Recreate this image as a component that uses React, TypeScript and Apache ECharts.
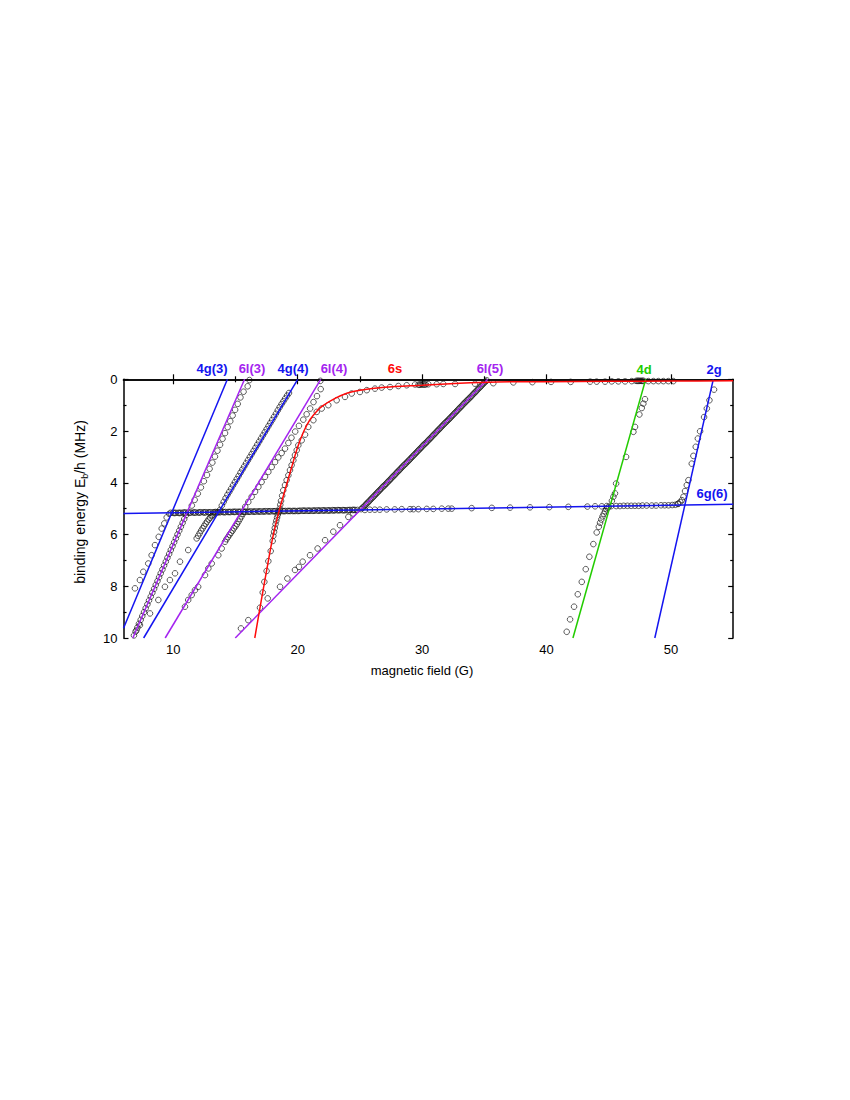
import React, { useEffect, useRef } from "react";
import * as echarts from "echarts";

const FONT = '"Liberation Sans", Arial, sans-serif';
const BLUE = "#1414f0";
const PURPLE = "#a424f0";
const RED = "#ff0a0a";
const GREEN = "#22cc00";

const X_MAJOR = [10, 20, 30, 40, 50];
const X_MINOR = [15, 25, 35, 45];
const Y_TICKS = [0, 2, 4, 6, 8, 10];

// model lines [B (G), E (MHz)]
const LINE_4G3 = [[14.35, 0], [6, 9.62]];
const LINE_6L3 = [[15.73, 0], [6.75, 10]];
const LINE_4G4 = [[20.0, 0], [7.62, 10]];
const LINE_6L4 = [[21.85, 0], [9.35, 10]];
const LINE_6L5 = [[35.27, 0], [14.98, 10]];
const LINE_4D = [[47.97, 0], [42.12, 10]];
const LINE_2G = [[53.4, 0], [48.7, 10]];
const LINE_6G6 = [[6, 5.19], [55, 4.83]];
const CURVE_6S = [
  [16.55, 10], [17.0, 8.75], [17.5, 7.4], [18.0, 6.1], [18.5, 5.1], [19.0, 4.25],
  [19.5, 3.42], [20.0, 2.62], [20.5, 2.0], [21.0, 1.55], [21.5, 1.25], [22.0, 1.03],
  [23.0, 0.74], [24.0, 0.53], [25.0, 0.42], [27.0, 0.31], [30.0, 0.23], [33.0, 0.15],
  [36.0, 0.1], [40.0, 0.09], [45.0, 0.08], [50.0, 0.07], [55.0, 0.06],
];

// measured binding energies [B (G), E (MHz)]
const DATA_6L3_UP = [
  [16.12, 0.03], [15.98, 0.27], [15.65, 0.48], [15.4, 0.7], [15.18, 0.95], [14.97, 1.18],
  [14.77, 1.4], [14.58, 1.62], [14.37, 1.85], [14.16, 2.08], [13.96, 2.3], [13.76, 2.53],
  [13.55, 2.76], [13.35, 2.99], [13.14, 3.22], [12.92, 3.46], [12.71, 3.7], [12.46, 3.94],
  [12.22, 4.18], [11.97, 4.42], [11.72, 4.66], [11.49, 4.88],
];
const DATA_6L3_LOW = [
  [11.02, 5.25], [10.88, 5.4], [10.75, 5.55], [10.61, 5.7], [10.48, 5.85], [10.34, 6.0],
  [10.21, 6.15], [10.07, 6.3], [9.94, 6.45], [9.8, 6.6], [9.67, 6.75], [9.53, 6.9],
  [9.4, 7.05], [9.26, 7.2], [9.13, 7.35], [8.99, 7.5], [8.86, 7.65], [8.73, 7.8],
  [8.59, 7.95], [8.46, 8.1], [8.32, 8.25], [8.19, 8.4], [8.05, 8.55], [7.92, 8.7],
  [7.78, 8.85], [7.65, 9.0], [7.51, 9.15], [7.38, 9.3], [7.24, 9.45], [7.11, 9.6],
  [6.97, 9.75], [6.84, 9.9],
];
const DATA_4G3 = [
  [6.92, 8.08], [7.32, 7.76], [7.59, 7.44], [7.99, 7.12], [8.26, 6.8], [8.53, 6.41],
  [8.83, 6.09], [9.07, 5.77], [9.28, 5.57], [9.47, 5.34], [9.68, 5.2],
];
const DATA_4G4_LOW = [
  [7.05, 9.7], [7.32, 9.5], [8.13, 9.05], [8.8, 8.53], [9.33, 8.02], [9.73, 7.76],
  [10.14, 7.5], [10.54, 7.05], [11.2, 6.6], [11.88, 6.15], [12.0, 6.05], [12.12, 5.95],
  [12.24, 5.85], [12.36, 5.76], [12.48, 5.67], [12.6, 5.58], [12.72, 5.5], [12.84, 5.42],
  [12.96, 5.35], [13.08, 5.29], [13.2, 5.24], [13.35, 5.19], [13.5, 5.15],
];
const DATA_4G4_UP = [
  [13.75, 5.05], [13.9, 4.88], [14.05, 4.74], [14.2, 4.6], [14.35, 4.47], [14.5, 4.35],
  [14.65, 4.23], [14.8, 4.1], [14.95, 3.98], [15.1, 3.86], [15.25, 3.74], [15.4, 3.61],
  [15.55, 3.49], [15.7, 3.37], [15.85, 3.25], [16.0, 3.13], [16.15, 3.01], [16.3, 2.89],
  [16.45, 2.77], [16.6, 2.65], [16.75, 2.53], [16.9, 2.41], [17.05, 2.29], [17.2, 2.17],
  [17.35, 2.05], [17.5, 1.93], [17.65, 1.81], [17.8, 1.69], [17.95, 1.57], [18.1, 1.45],
  [18.25, 1.33], [18.4, 1.2], [18.55, 1.08], [18.7, 0.96], [18.85, 0.85], [19.0, 0.74],
  [19.15, 0.63], [19.3, 0.53],
];
const DATA_6L4_UP = [
  [21.82, 0.06], [21.85, 0.38], [21.55, 0.65], [21.27, 0.88], [21.0, 1.13], [20.72, 1.35],
  [20.45, 1.56], [20.1, 1.8], [19.8, 2.02], [19.5, 2.26], [19.25, 2.46], [18.98, 2.68],
  [18.71, 2.85], [18.44, 3.02], [18.18, 3.2], [17.91, 3.39], [17.64, 3.58], [17.37, 3.77],
  [17.1, 3.97], [16.84, 4.16], [16.57, 4.35], [16.3, 4.54], [16.03, 4.74], [15.78, 4.93],
];
const DATA_6L4_LOW = [
  [15.6, 5.2], [15.48, 5.3], [15.36, 5.4], [15.24, 5.5], [15.12, 5.6], [15.0, 5.68],
  [14.88, 5.76], [14.76, 5.85], [14.64, 5.93], [14.52, 6.01], [14.4, 6.1], [14.28, 6.18],
  [14.16, 6.28], [13.89, 6.54], [13.62, 6.8], [13.09, 7.12], [12.82, 7.31], [12.55, 7.57],
  [12.0, 8.02], [11.74, 8.15], [11.48, 8.34], [11.2, 8.53], [10.94, 8.79],
];
const DATA_6S_LOW = [
  [16.97, 8.83], [17.19, 8.24], [17.32, 7.83], [17.5, 7.41], [17.64, 7.03], [17.83, 6.64],
  [17.99, 6.25], [18.04, 6.05], [18.1, 5.9], [18.16, 5.75], [18.22, 5.6], [18.28, 5.47],
  [18.34, 5.35], [18.4, 5.24], [18.47, 5.14], [18.55, 5.0], [18.6, 4.85], [18.66, 4.7],
  [18.75, 4.5], [18.84, 4.29], [18.98, 4.09], [19.11, 3.9], [19.25, 3.71], [19.38, 3.51],
  [19.51, 3.32], [19.65, 3.13], [19.78, 2.93], [19.92, 2.74], [20.05, 2.55], [20.32, 2.36],
  [20.59, 2.14], [20.85, 1.84], [21.26, 1.58], [21.53, 1.26], [21.93, 1.13], [22.46, 1.0],
  [23.13, 0.81], [23.8, 0.68], [24.34, 0.55], [25.0, 0.49], [25.55, 0.42], [26.21, 0.36],
  [26.75, 0.32], [27.42, 0.3], [28.09, 0.26], [28.76, 0.23], [29.43, 0.2],
];
const DATA_6S_TOP = [
  [29.7, 0.21], [29.8, 0.21], [29.9, 0.2], [30.0, 0.2], [30.1, 0.2], [30.2, 0.2], [30.3, 0.2],
  [30.5, 0.19], [31.17, 0.19], [31.7, 0.18], [32.65, 0.18], [34.25, 0.17], [35.72, 0.15],
  [37.33, 0.12], [38.86, 0.11], [40.36, 0.1], [41.94, 0.1], [43.5, 0.09], [44.03, 0.09],
  [44.7, 0.09], [45.24, 0.08], [45.77, 0.08], [46.31, 0.08], [46.85, 0.07], [47.2, 0.06],
  [47.3, 0.06], [47.4, 0.06], [47.5, 0.06], [47.6, 0.06], [47.7, 0.06], [47.8, 0.06],
  [48.18, 0.07], [48.59, 0.07], [48.99, 0.07], [49.39, 0.07], [49.79, 0.07], [50.19, 0.07],
];
const DATA_6L5_LOW = [
  [15.44, 9.63], [16.03, 9.31], [17.59, 8.47], [18.58, 8.02], [19.17, 7.7], [19.78, 7.37],
  [20.1, 7.25], [20.4, 7.05], [20.99, 6.8], [21.6, 6.54], [22.2, 6.22], [22.86, 5.89],
  [23.4, 5.64], [24.07, 5.32], [24.47, 5.19],
];
const DATA_6L5_UP = [
  [25.1, 5.02], [25.2, 4.97], [25.3, 4.93], [25.4, 4.88], [25.5, 4.83], [25.6, 4.78],
  [25.7, 4.73], [25.8, 4.68], [25.9, 4.63], [26.0, 4.58], [26.1, 4.53], [26.2, 4.48],
  [26.3, 4.43], [26.4, 4.38], [26.5, 4.33], [26.6, 4.28], [26.7, 4.23], [26.8, 4.18],
  [26.9, 4.13], [27.0, 4.09], [27.1, 4.04], [27.2, 3.99], [27.3, 3.94], [27.4, 3.89],
  [27.5, 3.84], [27.6, 3.79], [27.7, 3.74], [27.8, 3.69], [27.9, 3.64], [28.0, 3.59],
  [28.1, 3.54], [28.2, 3.49], [28.3, 3.44], [28.4, 3.39], [28.5, 3.34], [28.6, 3.29],
  [28.7, 3.25], [28.8, 3.2], [28.9, 3.15], [29.0, 3.1], [29.1, 3.05], [29.2, 3.0],
  [29.3, 2.95], [29.4, 2.9], [29.5, 2.85], [29.6, 2.8], [29.7, 2.75], [29.8, 2.7],
  [29.9, 2.65], [30.0, 2.6], [30.1, 2.55], [30.2, 2.5], [30.3, 2.46], [30.4, 2.41],
  [30.5, 2.36], [30.6, 2.31], [30.7, 2.26], [30.8, 2.21], [30.9, 2.16], [31.0, 2.11],
  [31.1, 2.06], [31.2, 2.01], [31.3, 1.96], [31.4, 1.91], [31.5, 1.86], [31.6, 1.81],
  [31.7, 1.76], [31.8, 1.71], [31.9, 1.66], [32.0, 1.62], [32.1, 1.57], [32.2, 1.52],
  [32.3, 1.47], [32.4, 1.42], [32.5, 1.37], [32.6, 1.32], [32.7, 1.27], [32.8, 1.22],
  [32.9, 1.17], [33.0, 1.12], [33.1, 1.07], [33.2, 1.02], [33.3, 0.97], [33.4, 0.92],
  [33.5, 0.87], [33.6, 0.82], [33.7, 0.78], [33.8, 0.73], [33.9, 0.68], [34.0, 0.63],
  [34.1, 0.58], [34.2, 0.53], [34.3, 0.48], [34.4, 0.43], [34.5, 0.38], [34.6, 0.33],
  [34.7, 0.28], [34.8, 0.23], [34.9, 0.18], [35.0, 0.13], [35.1, 0.08], [35.2, 0.04],
];
const DATA_4D = [
  [41.62, 9.76], [41.89, 9.28], [42.21, 8.79], [42.51, 8.31], [42.83, 7.83], [43.15, 7.34],
  [43.44, 6.86], [43.76, 6.37], [44.03, 5.92], [44.2, 5.7], [44.3, 5.55], [44.4, 5.42],
  [44.5, 5.3], [44.6, 5.2], [44.7, 5.1], [44.8, 5.02], [44.9, 4.97], [45.0, 4.93],
  [45.25, 4.7], [45.37, 4.54], [45.5, 4.41], [45.59, 4.03], [46.39, 3.0], [46.98, 2.03],
  [47.11, 1.84], [47.46, 1.36], [47.65, 1.11], [47.78, 0.94], [47.91, 0.77],
];
const DATA_2G = [
  [53.46, 0.4], [53.09, 0.81], [52.88, 1.13], [52.66, 1.46], [52.34, 2.01], [52.16, 2.29],
  [51.99, 2.61], [51.8, 2.96], [51.67, 3.26], [51.4, 3.9], [51.27, 4.09], [51.13, 4.32],
  [51.0, 4.54], [50.87, 4.67], [50.75, 4.75], [50.6, 4.8],
];
const DATA_6G6_DENSE = [
  [9.8, 5.16], [10.0, 5.16], [10.2, 5.16], [10.4, 5.16], [10.6, 5.16], [10.8, 5.15],
  [11.0, 5.15], [11.2, 5.15], [11.4, 5.15], [11.6, 5.15], [11.8, 5.15], [12.0, 5.15],
  [12.2, 5.14], [12.4, 5.14], [12.6, 5.14], [12.8, 5.14], [13.0, 5.14], [13.2, 5.14],
  [13.4, 5.13], [13.6, 5.13], [13.8, 5.13], [14.0, 5.13], [14.2, 5.13], [14.4, 5.13],
  [14.6, 5.13], [14.8, 5.12], [15.0, 5.12], [15.2, 5.12], [15.4, 5.12], [15.6, 5.12],
  [15.8, 5.12], [16.0, 5.12], [16.2, 5.11], [16.4, 5.11], [16.6, 5.11], [16.8, 5.11],
  [17.0, 5.11], [17.2, 5.11], [17.4, 5.1], [17.6, 5.1], [17.8, 5.1], [18.0, 5.1],
  [18.2, 5.1], [18.4, 5.1], [18.6, 5.1], [18.8, 5.09], [19.0, 5.09], [19.2, 5.09],
  [19.4, 5.09], [19.6, 5.09], [19.8, 5.09], [20.0, 5.09], [20.2, 5.08], [20.4, 5.08],
  [20.6, 5.08], [20.8, 5.08], [21.0, 5.08], [21.2, 5.08], [21.4, 5.07], [21.6, 5.07],
  [21.8, 5.07], [22.0, 5.07], [22.2, 5.07], [22.4, 5.07], [22.6, 5.07], [22.8, 5.06],
  [23.0, 5.06], [23.2, 5.06], [23.4, 5.06], [23.6, 5.06], [23.8, 5.06], [24.0, 5.06],
  [24.2, 5.05], [24.4, 5.05], [24.6, 5.05], [24.8, 5.05],
  [10.1, 5.17], [10.5, 5.17], [10.9, 5.16], [11.3, 5.16], [11.7, 5.15], [12.1, 5.15],
  [12.5, 5.15], [12.9, 5.15], [13.3, 5.14], [13.7, 5.14], [14.1, 5.14], [14.5, 5.13],
  [14.9, 5.13], [15.3, 5.13], [15.7, 5.12], [16.1, 5.12], [16.5, 5.12], [16.9, 5.11],
  [17.3, 5.11], [17.7, 5.11], [18.1, 5.1], [18.5, 5.1], [18.9, 5.1], [19.3, 5.09],
  [19.7, 5.09], [20.1, 5.09], [20.5, 5.08], [20.9, 5.08], [21.3, 5.08], [21.7, 5.08],
  [22.1, 5.07], [22.5, 5.07], [22.9, 5.07], [23.3, 5.06], [23.7, 5.06], [24.1, 5.06],
  [24.5, 5.05],
];
const DATA_6G6_SPARSE = [
  [25.4, 5.05], [25.8, 5.04], [26.2, 5.04], [26.6, 5.04], [27.15, 5.03], [27.8, 5.03],
  [28.36, 5.02], [29.03, 5.02], [29.3, 5.02], [29.7, 5.02], [30.37, 5.01], [30.9, 5.01],
  [31.58, 5.0], [32.1, 5.0], [32.38, 5.0], [33.98, 4.98], [35.6, 4.97], [37.07, 4.96],
  [38.67, 4.95], [40.22, 4.94], [41.75, 4.93], [43.28, 4.92], [43.9, 4.91], [44.44, 4.91],
  [44.84, 4.9], [45.2, 4.9], [45.6, 4.9], [45.9, 4.9], [46.2, 4.89], [46.5, 4.89],
  [46.8, 4.89], [47.1, 4.89], [47.4, 4.89], [47.7, 4.88], [48.05, 4.88], [48.46, 4.88],
  [48.8, 4.88], [49.2, 4.87], [49.5, 4.87], [49.8, 4.87], [50.1, 4.86], [50.35, 4.85],
  [50.55, 4.82],
];

const SCATTER_SETS = [
  DATA_6L3_UP, DATA_6L3_LOW, DATA_4G3, DATA_4G4_LOW, DATA_4G4_UP, DATA_6L4_UP,
  DATA_6L4_LOW, DATA_6S_LOW, DATA_6S_TOP, DATA_6L5_LOW, DATA_6L5_UP, DATA_4D,
  DATA_2G, DATA_6G6_DENSE, DATA_6G6_SPARSE,
];

const MODEL_LINES = [
  { data: LINE_4G3, color: BLUE },
  { data: LINE_6L3, color: PURPLE },
  { data: LINE_4G4, color: BLUE },
  { data: LINE_6L4, color: PURPLE },
  { data: LINE_6L5, color: PURPLE },
  { data: LINE_4D, color: GREEN },
  { data: LINE_2G, color: BLUE },
  { data: LINE_6G6, color: BLUE },
];

const STATE_LABELS = [
  { text: "4g(3)", color: BLUE, x: 212, y: 368 },
  { text: "6l(3)", color: PURPLE, x: 252, y: 368 },
  { text: "4g(4)", color: BLUE, x: 293, y: 368 },
  { text: "6l(4)", color: PURPLE, x: 334, y: 368 },
  { text: "6s", color: RED, x: 395, y: 368 },
  { text: "6l(5)", color: PURPLE, x: 490, y: 368 },
  { text: "4d", color: GREEN, x: 644, y: 369 },
  { text: "2g", color: BLUE, x: 714, y: 369 },
  { text: "6g(6)", color: BLUE, x: 712, y: 493 },
];

export default function App() {
  const ref = useRef<HTMLDivElement>(null);
  useEffect(() => {
    if (!ref.current) return;
    const chart = echarts.init(ref.current, null, { renderer: "svg" });
    const axisLine = { show: true, lineStyle: { color: "#000", width: 1.5 } };
    const tickStyle = { color: "#000", width: 1.2 };
    const xCommon = { type: "value", min: 6, max: 55, splitLine: { show: false } };
    const yCommon = {
      type: "value", min: 0, max: 10, interval: 2, inverse: true,
      splitLine: { show: false }, axisLine,
      axisTick: { inside: true, length: 5, lineStyle: tickStyle },
      minorTick: { show: true, splitNumber: 2, length: 3, lineStyle: tickStyle },
    };
    const option: any = {
      animation: false,
      backgroundColor: "#fff",
      grid: { left: 123.5, right: 116.8, top: 379.3, bottom: 462, containLabel: false },
      xAxis: [
        {
          ...xCommon, position: "bottom", axisLine,
          axisTick: { inside: true, length: 5, customValues: X_MAJOR, lineStyle: tickStyle },
          axisLabel: { customValues: X_MAJOR, margin: 5, fontSize: 13, color: "#000", fontFamily: FONT },
        },
        {
          ...xCommon, position: "bottom", axisLine: { show: false },
          axisTick: { inside: true, length: 3, customValues: X_MINOR, lineStyle: tickStyle },
          axisLabel: { show: false },
        },
        {
          ...xCommon, position: "top", axisLine,
          axisTick: { inside: true, length: 5, customValues: X_MAJOR, lineStyle: tickStyle },
          axisLabel: { show: false },
        },
        {
          ...xCommon, position: "top", axisLine: { show: false },
          axisTick: { inside: true, length: 3, customValues: X_MINOR, lineStyle: tickStyle },
          axisLabel: { show: false },
        },
      ],
      yAxis: [
        {
          ...yCommon, position: "left",
          axisLabel: { margin: 6, fontSize: 13, color: "#000", fontFamily: FONT, customValues: Y_TICKS },
        },
        { ...yCommon, position: "right", axisLabel: { show: false } },
      ],
      series: [
        ...SCATTER_SETS.map((d) => ({
          type: "scatter", data: d, xAxisIndex: 0, yAxisIndex: 0,
          symbol: "circle", symbolSize: 5.6, z: 2,
          itemStyle: { color: "rgba(0,0,0,0)", borderColor: "#111", borderWidth: 0.85 },
          emphasis: { disabled: true },
        })),
        ...MODEL_LINES.map((l) => ({
          type: "line", data: l.data, xAxisIndex: 0, yAxisIndex: 0,
          symbol: "none", z: 3,
          lineStyle: { color: l.color, width: 1.5 },
        })),
        {
          type: "line", data: CURVE_6S, xAxisIndex: 0, yAxisIndex: 0,
          symbol: "none", smooth: 0.3, z: 3,
          lineStyle: { color: RED, width: 1.5 },
        },
      ],
      graphic: [
        ...STATE_LABELS.map((s) => ({
          type: "text", x: s.x, y: s.y, z: 10,
          style: {
            text: s.text, fill: s.color, fontSize: 13, fontWeight: "bold",
            fontFamily: FONT, align: "center", verticalAlign: "middle",
          },
        })),
        {
          type: "text", x: 422, y: 670, z: 10,
          style: {
            text: "magnetic field (G)", fill: "#000", fontSize: 13, fontFamily: FONT,
            align: "center", verticalAlign: "middle",
          },
        },
        {
          type: "text", x: 80, y: 502, rotation: Math.PI / 2, z: 10,
          style: {
            text: "binding energy E{sub|b}/h (MHz)", fill: "#000", fontSize: 14,
            fontFamily: FONT, align: "center", verticalAlign: "middle", lineHeight: 18,
            rich: { sub: { fontSize: 9, fontFamily: FONT, fill: "#000", verticalAlign: "bottom", lineHeight: 8 } },
          },
        },
      ],
    };
    chart.setOption(option);
    return () => chart.dispose();
  }, []);
  return (
    <div
      ref={ref}
      style={{ width: 850, height: 1100, position: "absolute", left: 0, top: 0 }}
    />
  );
}
